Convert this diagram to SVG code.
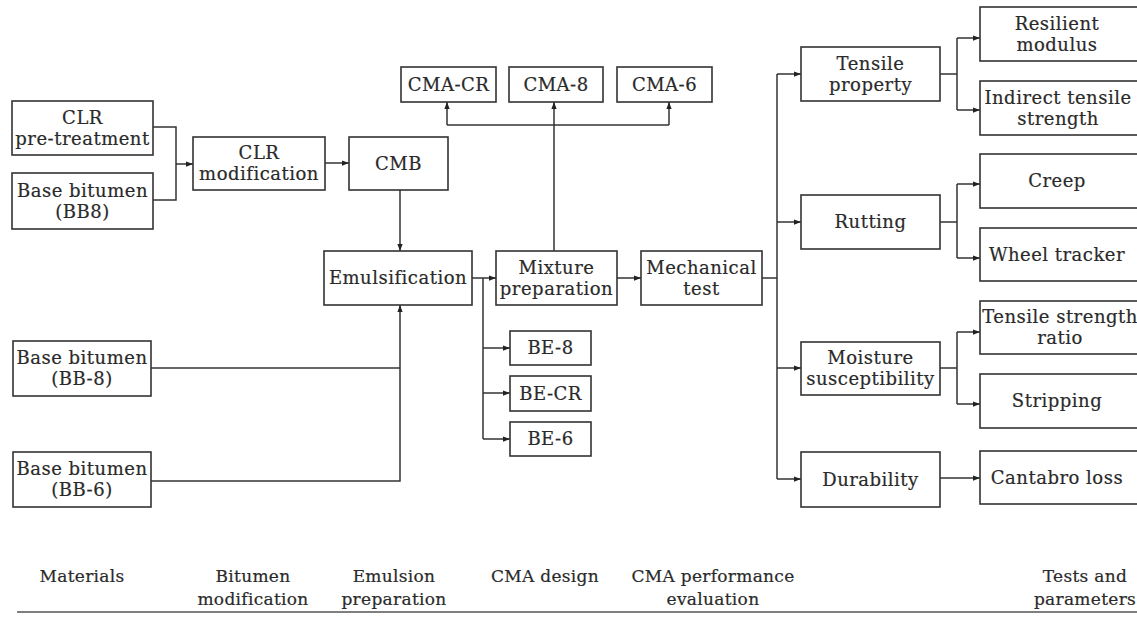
<svg xmlns="http://www.w3.org/2000/svg" width="1137" height="623" viewBox="0 0 1137 623">
<defs>
<marker id="ah" viewBox="0 0 8 6" refX="8" refY="3" markerWidth="7" markerHeight="5.5" markerUnits="userSpaceOnUse" orient="auto">
<path d="M0 0 L8 3 L0 6 Z" fill="#222"/>
</marker>
<style>
rect{fill:#fff;stroke:#333;stroke-width:1.6}
text{font-family:"DejaVu Serif","Liberation Serif",serif;font-size:18px;letter-spacing:0.5px;fill:#2a2a2a;stroke:#2a2a2a;stroke-width:0.2;text-anchor:middle}
.lbl{font-size:17px;letter-spacing:0.3px}
.c path{fill:none;stroke:#333;stroke-width:1.5}
.c .a{marker-end:url(#ah)}
</style>
</defs>
<rect x="0" y="0" width="1137" height="623" style="fill:#fff;stroke:none"/>

<g id="connectors" class="c">
<path d="M153 127 H176 V200 H153"/>
<path class="a" d="M176 164 H193"/>
<path class="a" d="M325 163 H349"/>
<path class="a" d="M400 190 V251"/>
<path d="M151 368 H400"/>
<path class="a" d="M151 481 H400 V305"/>
<path class="a" d="M472 278 H496"/>
<path d="M483 278 V439"/>
<path class="a" d="M483 348 H510"/>
<path class="a" d="M483 393 H510"/>
<path class="a" d="M483 439 H510"/>
<path class="a" d="M554 251 V102"/>
<path d="M447 125 H669"/>
<path class="a" d="M447 125 V102"/>
<path class="a" d="M669 125 V102"/>
<path class="a" d="M617 278 H641"/>
<path d="M762 278 H777"/>
<path d="M777 74 V479"/>
<path class="a" d="M777 74 H801"/>
<path class="a" d="M777 222 H801"/>
<path class="a" d="M777 368 H801"/>
<path class="a" d="M777 479 H801"/>
<path d="M940 74 H957 M957 38 V110"/>
<path class="a" d="M957 38 H980"/>
<path class="a" d="M957 110 H980"/>
<path d="M940 222 H957 M957 184 V258"/>
<path class="a" d="M957 184 H980"/>
<path class="a" d="M957 258 H980"/>
<path d="M940 368 H957 M957 332 V404"/>
<path class="a" d="M957 332 H980"/>
<path class="a" d="M957 404 H980"/>
<path class="a" d="M940 478 H980"/>
</g>

<g id="clr-pretreatment"><rect x="12" y="101" width="141" height="54"/><text x="82.5" y="123.5">CLR</text><text x="82.5" y="144.5">pre-treatment</text></g>
<g id="bb8-top"><rect x="12" y="173" width="141" height="56"/><text x="82.5" y="196.5">Base bitumen</text><text x="82.5" y="217.5">(BB8)</text></g>
<g id="clr-modification"><rect x="193" y="137" width="132" height="53"/><text x="259" y="159">CLR</text><text x="259" y="180">modification</text></g>
<g id="cmb"><rect x="349" y="137" width="99" height="53"/><text x="398.5" y="169.5">CMB</text></g>
<g id="emulsification"><rect x="324" y="251" width="148" height="54"/><text x="398" y="284">Emulsification</text></g>
<g id="mixture-preparation"><rect x="496" y="251" width="121" height="54"/><text x="556.5" y="273.5">Mixture</text><text x="556.5" y="294.5">preparation</text></g>
<g id="mechanical-test"><rect x="641" y="251" width="121" height="54"/><text x="701.5" y="273.5">Mechanical</text><text x="701.5" y="294.5">test</text></g>
<g id="cma-cr"><rect x="401" y="67" width="95" height="35"/><text x="448.5" y="90.5">CMA-CR</text></g>
<g id="cma-8"><rect x="509" y="67" width="94" height="35"/><text x="556" y="90.5">CMA-8</text></g>
<g id="cma-6"><rect x="617" y="67" width="95" height="35"/><text x="664.5" y="90.5">CMA-6</text></g>
<g id="bb-8"><rect x="13" y="341" width="138" height="55"/><text x="82" y="364">Base bitumen</text><text x="82" y="385">(BB-8)</text></g>
<g id="bb-6"><rect x="13" y="452" width="138" height="55"/><text x="82" y="475">Base bitumen</text><text x="82" y="496">(BB-6)</text></g>
<g id="be-8"><rect x="510" y="331" width="81" height="34"/><text x="550.5" y="354">BE-8</text></g>
<g id="be-cr"><rect x="510" y="376" width="81" height="35"/><text x="550.5" y="399.5">BE-CR</text></g>
<g id="be-6"><rect x="510" y="422" width="81" height="34"/><text x="550.5" y="445">BE-6</text></g>
<g id="tensile-property"><rect x="801" y="47" width="139" height="54"/><text x="870.5" y="69.5">Tensile</text><text x="870.5" y="90.5">property</text></g>
<g id="rutting"><rect x="801" y="195" width="139" height="54"/><text x="870.5" y="228">Rutting</text></g>
<g id="moisture-susceptibility"><rect x="801" y="342" width="139" height="53"/><text x="870.5" y="364">Moisture</text><text x="870.5" y="385">susceptibility</text></g>
<g id="durability"><rect x="801" y="452" width="139" height="55"/><text x="870.5" y="485.5">Durability</text></g>
<g id="resilient-modulus"><rect x="980" y="7" width="170" height="54"/><text x="1057" y="29.5">Resilient</text><text x="1057" y="50.5">modulus</text></g>
<g id="indirect-tensile-strength"><rect x="980" y="81" width="170" height="54"/><text x="1058" y="103.5">Indirect tensile</text><text x="1058" y="124.5">strength</text></g>
<g id="creep"><rect x="980" y="154" width="170" height="54"/><text x="1057" y="187">Creep</text></g>
<g id="wheel-tracker"><rect x="980" y="228" width="170" height="53"/><text x="1057" y="260.5">Wheel tracker</text></g>
<g id="tensile-strength-ratio"><rect x="980" y="301" width="170" height="53"/><text x="1060" y="323">Tensile strength</text><text x="1060" y="344">ratio</text></g>
<g id="stripping"><rect x="980" y="374" width="170" height="54"/><text x="1057" y="407">Stripping</text></g>
<g id="cantabro-loss"><rect x="980" y="451" width="170" height="53"/><text x="1057" y="483.5">Cantabro loss</text></g>

<g id="stage-labels">
<text class="lbl" x="82" y="582">Materials</text>
<text class="lbl" x="253" y="582">Bitumen</text><text class="lbl" x="253" y="605">modification</text>
<text class="lbl" x="394" y="582">Emulsion</text><text class="lbl" x="394" y="605">preparation</text>
<text class="lbl" x="545" y="582">CMA design</text>
<text class="lbl" x="713" y="582">CMA performance</text><text class="lbl" x="713" y="605">evaluation</text>
<text class="lbl" x="1085" y="582">Tests and</text><text class="lbl" x="1085" y="605">parameters</text>
<path d="M17 612 H1137" style="fill:none;stroke:#555;stroke-width:1.5"/>
</g>
</svg>
